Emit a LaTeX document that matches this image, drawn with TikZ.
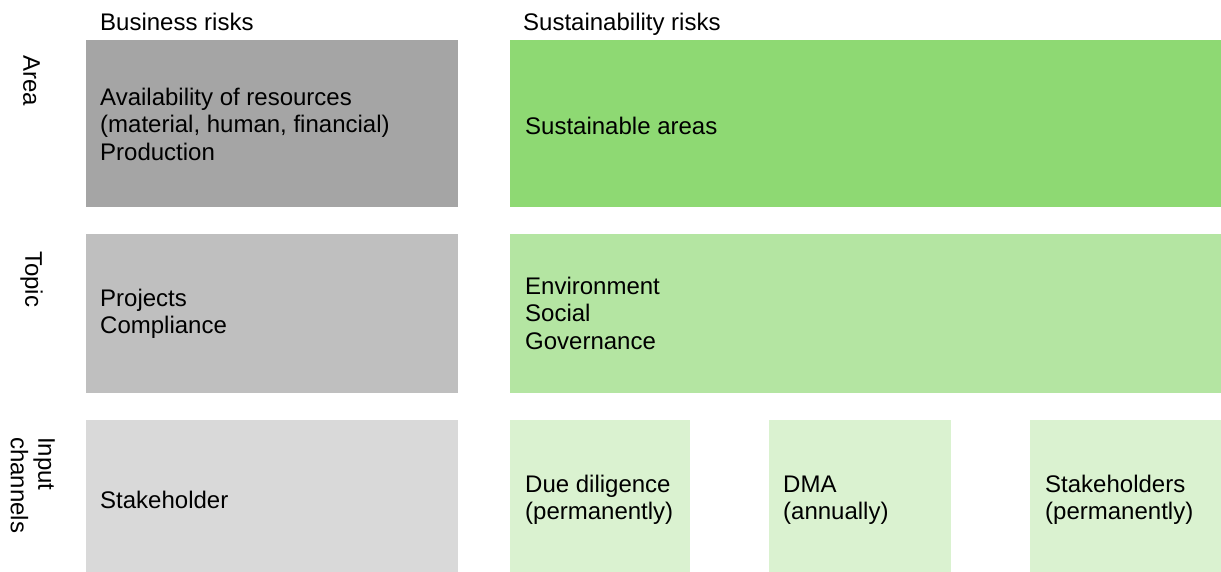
\documentclass[tikz,border=0pt]{standalone}
\usepackage{fontspec}
\setmainfont{Liberation Sans}
\definecolor{gA}{HTML}{A5A5A5}
\definecolor{gB}{HTML}{BFBFBF}
\definecolor{gC}{HTML}{D9D9D9}
\definecolor{vA}{HTML}{8ED973}
\definecolor{vB}{HTML}{B4E5A2}
\definecolor{vC}{HTML}{DAF2D0}
\begin{document}
\begin{tikzpicture}[x=1pt,y=-1pt,
  every node/.style={font=\fontsize{24}{27.5}\selectfont, text=black},
  boxtext/.style={anchor=west, align=left, inner sep=0pt},
  header/.style={anchor=base west, inner sep=0pt},
  side/.style={anchor=north west, align=left, rotate=-90, inner sep=0pt}]
\useasboundingbox (0,0) rectangle (1221,572);
% boxes
\fill[gA] (86,40) rectangle (458,207);
\fill[gB] (86,234) rectangle (458,393);
\fill[gC] (86,420) rectangle (458,572);
\fill[vA] (510,40) rectangle (1221,207);
\fill[vB] (510,234) rectangle (1221,393);
\fill[vC] (510,420) rectangle (690,572);
\fill[vC] (769,420) rectangle (951,572);
\fill[vC] (1030,420) rectangle (1221,572);
% headers
\node[header] (hb) at (100,31) {Business risks};
\node[header] (hs) at (523,31) {Sustainability risks};
% side labels
\node[side] (la) at (40,55) {Area};
\node[side] (lt) at (43,251) {Topic};
\node[side] (li) at (55,437) {Input\\channels};
% texts
\node[boxtext] (t1) at (100,124) {Availability of resources\\(material, human, financial)\\Production};
\node[boxtext] (t2) at (525,126) {Sustainable areas};
\node[boxtext] (t3) at (100,314) {Projects\\Compliance};
\node[boxtext] (t4) at (525,313) {Environment\\Social\\Governance};
\node[boxtext] (t5) at (100,500) {Stakeholder};
\node[boxtext] (t6) at (525,500) {Due diligence\\(permanently)};
\node[boxtext] (t7) at (783,500) {DMA\\(annually)};
\node[boxtext] (t8) at (1045,500) {Stakeholders\\(permanently)};
\end{tikzpicture}
\end{document}
